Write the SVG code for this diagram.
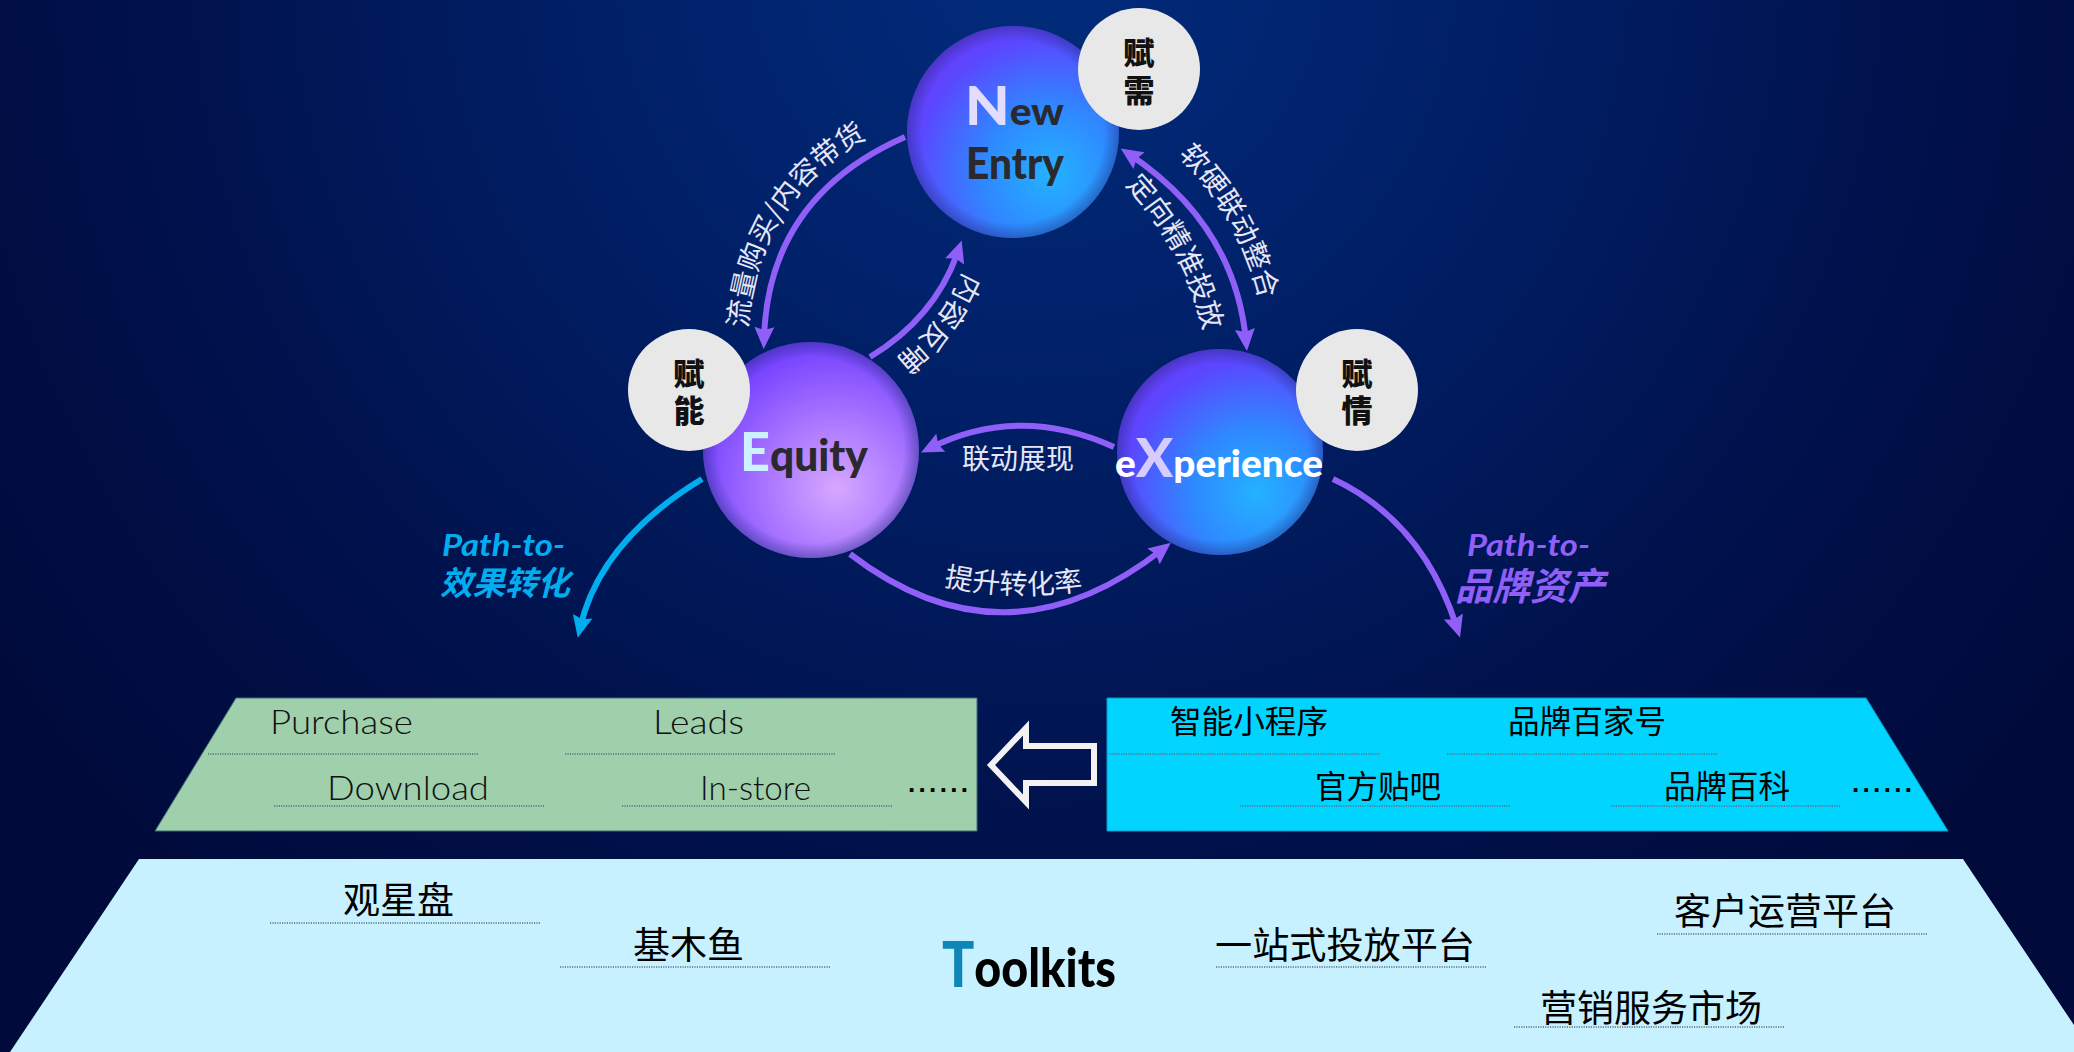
<svg xmlns="http://www.w3.org/2000/svg" width="2074" height="1052" viewBox="0 0 2074 1052">
<style>
text{font-family:"Liberation Sans","Noto Sans CJK SC",sans-serif}
.lat{font-family:"Lato","Liberation Sans",sans-serif}
.lb{font-size:28px;fill:#e6e6f6;font-family:"Noto Sans CJK SC",sans-serif;text-anchor:middle}
.row{font-size:32px;fill:#000;font-family:"Noto Sans CJK SC",sans-serif;font-weight:400}
.big{font-size:37px;fill:#000;font-family:"Noto Sans CJK SC",sans-serif;font-weight:400}
.en{font-size:33px;fill:#111;font-family:"Lato","Liberation Sans",sans-serif;font-weight:300}
.dots{font-size:26px;fill:#000;font-weight:700}
.badge{fill:#e8e8e8}
.bt{font-size:31px;font-weight:900;fill:#111;text-anchor:middle;font-family:"Noto Sans CJK SC",sans-serif}
.nm{font-weight:900;fill:#2a2a2e;font-family:"Lato","Liberation Sans",sans-serif}
.rule{stroke:#5a6f80;stroke-width:1.4;stroke-dasharray:1.2 1.2;fill:none}
.arc{fill:none;stroke-width:6}
.vio{stroke:#8f5ff8}
.cy{stroke:#00aeef}
.path{font-size:31px;font-style:italic;font-weight:700;font-family:"Lato","Liberation Sans",sans-serif}
.pathc{font-size:33px;font-style:italic;font-weight:700;font-family:"Noto Sans CJK SC",sans-serif}
</style>
<defs>
<radialGradient id="bg" gradientUnits="userSpaceOnUse" cx="1037" cy="-40" r="1250">
<stop offset="0" stop-color="#012c7c"/><stop offset="0.28" stop-color="#01226c"/><stop offset="0.5" stop-color="#001a5c"/><stop offset="0.75" stop-color="#001049"/><stop offset="1" stop-color="#000b3c"/>
</radialGradient>
<radialGradient id="blue" cx="0.68" cy="0.7" r="0.8">
<stop offset="0" stop-color="#24b2ff"/><stop offset="0.4" stop-color="#2f88ff"/><stop offset="0.8" stop-color="#5a48ff"/><stop offset="1" stop-color="#6d38fa"/>
</radialGradient>
<radialGradient id="vio" cx="0.62" cy="0.68" r="0.78">
<stop offset="0" stop-color="#d6a8ff"/><stop offset="0.45" stop-color="#a672ff"/><stop offset="0.85" stop-color="#7642ff"/><stop offset="1" stop-color="#6a36f5"/>
</radialGradient>
<radialGradient id="rim" cx="0.5" cy="0.5" r="0.5">
<stop offset="0.86" stop-color="#1a2a70" stop-opacity="0"/><stop offset="1" stop-color="#1a2a70" stop-opacity="0.4"/>
</radialGradient>
<marker id="hv" markerUnits="userSpaceOnUse" markerWidth="22" markerHeight="22" viewBox="0 0 22 22" refX="12" refY="11" orient="auto-start-reverse"><path d="M0,1 L22,11 L0,21 L3,11z" fill="#8f5ff8"/></marker>
<marker id="hc" markerUnits="userSpaceOnUse" markerWidth="22" markerHeight="22" viewBox="0 0 22 22" refX="12" refY="11" orient="auto-start-reverse"><path d="M0,1 L22,11 L0,21 L3,11z" fill="#00aeef"/></marker>
<path id="p1" d="M748,327 Q757,200 866,139"/>
<path id="p2" d="M1125,185 Q1183,245 1204,331"/>
<path id="p3" d="M1180,157 Q1238,215 1259,297"/>
<path id="p4" d="M963,274 Q941,324 898,358"/>
<path id="p5" d="M945,586 Q1013,600 1082,590"/>
</defs>
<rect width="2074" height="1052" fill="url(#bg)"/>

<g id="connectors">
<path class="arc vio" d="M905,137 Q768,197 764,339" marker-end="url(#hv)"/>
<path class="arc vio" d="M870,357 Q936,317 958.5,250" marker-end="url(#hv)"/>
<path class="arc vio" d="M1129,154 Q1235,225 1246,341" marker-start="url(#hv)" marker-end="url(#hv)"/>
<path class="arc vio" d="M1114,447 Q1019,404 930,448" marker-end="url(#hv)"/>
<path class="arc vio" d="M850,554 Q1005,673 1163,549" marker-end="url(#hv)"/>
<path class="arc cy" d="M702,479 Q600,541 580,628" marker-end="url(#hc)"/>
<path class="arc vio" d="M1333,479 Q1423,521 1457,628" marker-end="url(#hv)"/>
<text class="lb"><textPath href="#p1" startOffset="50%">流量购买/内容带货</textPath></text>
<text class="lb"><textPath href="#p2" startOffset="50%">定向精准投放</textPath></text>
<text class="lb"><textPath href="#p3" startOffset="50%">软硬联动整合</textPath></text>
<text class="lb"><textPath href="#p4" startOffset="50%">内容反哺</textPath></text>
<text class="lb" x="1018" y="469">联动展现</text>
<text class="lb"><textPath href="#p5" startOffset="50%">提升转化率</textPath></text>
</g>

<g id="node-new-entry">
<circle cx="1013" cy="132" r="106" fill="url(#blue)"/>
<circle cx="1013" cy="132" r="106" fill="url(#rim)"/>
<text x="965" y="124.5" class="nm" font-size="38" textLength="99" lengthAdjust="spacingAndGlyphs"><tspan font-size="54" fill="#e2dcff">N</tspan><tspan>ew</tspan></text>
<text x="966" y="179" class="nm" font-size="44" textLength="98" lengthAdjust="spacingAndGlyphs">Entry</text>
</g>
<g id="node-equity">
<circle cx="811" cy="450" r="108" fill="url(#vio)"/>
<circle cx="811" cy="450" r="108" fill="url(#rim)"/>
<text x="740" y="471" class="nm" font-size="44" textLength="128" lengthAdjust="spacingAndGlyphs"><tspan font-size="54" fill="#cdf2ff">E</tspan><tspan>quity</tspan></text>
</g>
<g id="node-experience">
<circle cx="1220" cy="452" r="103" fill="url(#blue)"/>
<circle cx="1220" cy="452" r="103" fill="url(#rim)"/>
<text x="1115" y="477" class="nm" font-size="38" textLength="208" lengthAdjust="spacingAndGlyphs" style="fill:#fff"><tspan>e</tspan><tspan font-size="54" fill="#d6ccff">X</tspan><tspan>perience</tspan></text>
</g>
<g id="badge-xu">
<circle class="badge" cx="1139" cy="69" r="61"/>
<text class="bt" x="1139" y="64">赋</text><text class="bt" x="1139" y="102">需</text>
</g>
<g id="badge-neng">
<circle class="badge" cx="689" cy="390" r="61"/>
<text class="bt" x="689" y="385">赋</text><text class="bt" x="689" y="422">能</text>
</g>
<g id="badge-qing">
<circle class="badge" cx="1357" cy="390" r="61"/>
<text class="bt" x="1357" y="385">赋</text><text class="bt" x="1357" y="422">情</text>
</g>

<g id="label-path-left" fill="#00aeef">
<text class="path" x="442" y="556" textLength="123" lengthAdjust="spacingAndGlyphs">Path-to-</text>
<text class="pathc" x="440" y="595" textLength="130" lengthAdjust="spacingAndGlyphs">效果转化</text>
</g>
<g id="label-path-right" fill="#8f5ff8">
<text class="path" x="1467" y="556" textLength="123" lengthAdjust="spacingAndGlyphs">Path-to-</text>
<text class="pathc" x="1455" y="600" style="font-size:38px" textLength="150" lengthAdjust="spacingAndGlyphs">品牌资产</text>
</g>

<g id="panel-results">
<polygon points="236,698 977,698 977,831 155,831" fill="#a0cfab" stroke="#3f6f78" stroke-width="1"/>
<text class="en" x="270" y="734" textLength="143" lengthAdjust="spacingAndGlyphs">Purchase</text>
<text class="en" x="653" y="734" textLength="91" lengthAdjust="spacingAndGlyphs">Leads</text>
<text class="en" x="327" y="800" textLength="162" lengthAdjust="spacingAndGlyphs">Download</text>
<text class="en" x="700" y="800" textLength="111" lengthAdjust="spacingAndGlyphs">In-store</text>
<text class="dots" x="908" y="792" textLength="60" lengthAdjust="spacing">......</text>
<path class="rule" d="M208,754H479M565,754H836M274,806H545M622,806H893"/>
</g>
<g id="big-arrow">
<polygon points="991,765 1026,728 1026,746 1094,746 1094,783 1026,783 1026,802" fill="none" stroke="#f2f2f2" stroke-width="6"/>
</g>
<g id="panel-assets">
<polygon points="1107,698 1866,698 1948,831 1107,831" fill="#00d4ff" stroke="#0a98c4" stroke-width="1"/>
<text class="row" x="1170" y="733" textLength="158" lengthAdjust="spacingAndGlyphs">智能小程序</text>
<text class="row" x="1508" y="733" textLength="158" lengthAdjust="spacingAndGlyphs">品牌百家号</text>
<text class="row" x="1315" y="798" textLength="126" lengthAdjust="spacingAndGlyphs">官方贴吧</text>
<text class="row" x="1664" y="798" textLength="126" lengthAdjust="spacingAndGlyphs">品牌百科</text>
<text class="dots" x="1852" y="792" textLength="60" lengthAdjust="spacing">......</text>
<path class="rule" d="M1109,754H1379M1447,754H1718M1240,806H1511M1611,806H1841"/>
</g>
<g id="panel-toolkits">
<polygon points="139,859 1963,859 2092,1052 10,1052" fill="#c8f1ff"/>
<text class="big" x="343" y="914" textLength="111" lengthAdjust="spacingAndGlyphs">观星盘</text>
<text class="big" x="633" y="959" textLength="111" lengthAdjust="spacingAndGlyphs">基木鱼</text>
<text class="big" x="1215" y="959" textLength="260" lengthAdjust="spacingAndGlyphs">一站式投放平台</text>
<text class="big" x="1674" y="925" textLength="222" lengthAdjust="spacingAndGlyphs">客户运营平台</text>
<text class="big" x="1540" y="1022" textLength="222" lengthAdjust="spacingAndGlyphs">营销服务市场</text>
<text x="942" y="987" font-size="54" font-weight="900" fill="#000" textLength="174" lengthAdjust="spacingAndGlyphs" class="lat"><tspan font-size="62" fill="#0e86b8">T</tspan><tspan>oolkits</tspan></text>
<path class="rule" d="M270,923H541M560,967H831M1216,967H1487M1657,934H1928M1514,1027H1784"/>
</g>
</svg>
